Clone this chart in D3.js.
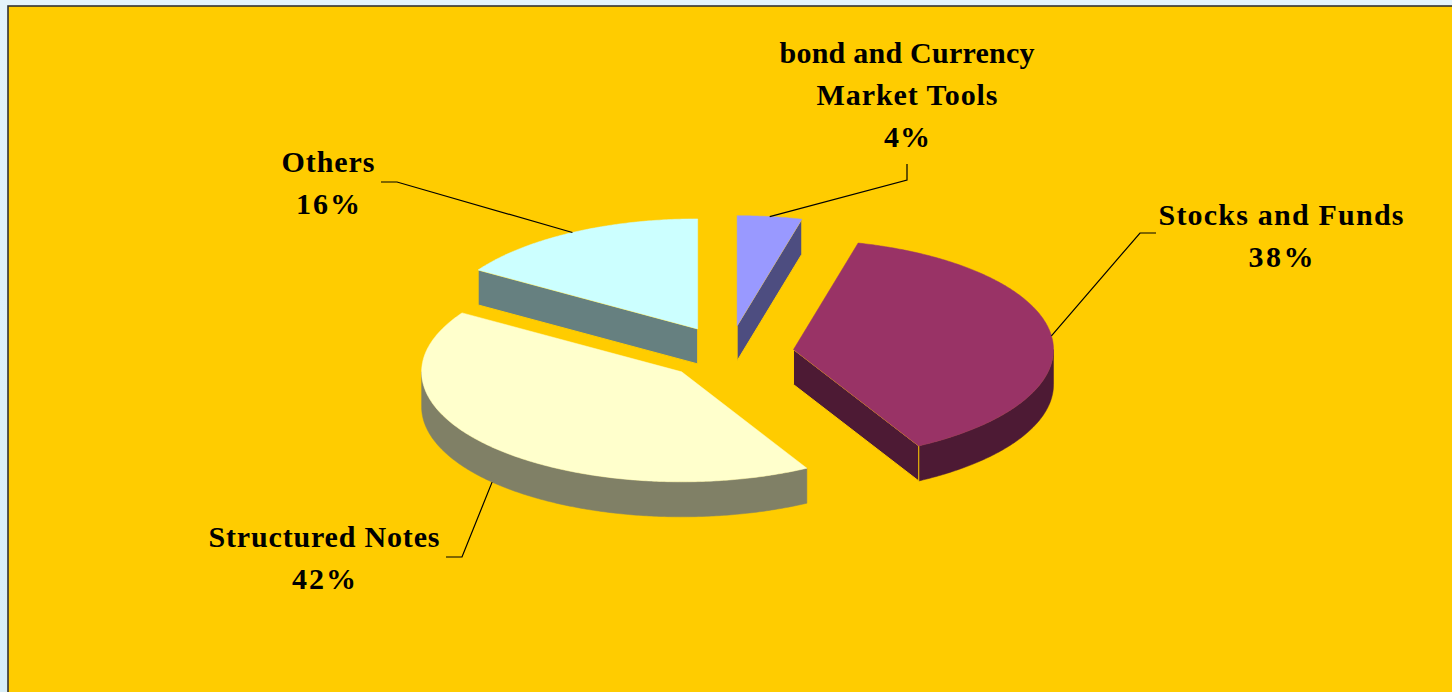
<!DOCTYPE html>
<html>
<head>
<meta charset="utf-8">
<script src="https://cdn.jsdelivr.net/npm/d3@7"></script>
<style>
  body { margin: 0; background: #e2f2fa; }
  svg { display: block; }
</style>
</head>
<body>
<script>
// Portfolio composition, percent of total
const categories = ["bond and Currency Market Tools", "Stocks and Funds", "Structured Notes", "Others"];
const shares = [4, 38, 42, 16];
const labelLines = [["bond and Currency", "Market Tools"], ["Stocks and Funds"], ["Structured Notes"], ["Others"]];

const topColors  = ["#9999FF", "#993366", "#FFFFCC", "#CCFFFF"];
const sideColors = ["#4D4D80", "#4D1A34", "#808066", "#668080"];

// label placement: centre x, first baseline, fitted line widths, leader elbow
const labelLayout = [
  { x: 907,  y: 63,  widths: [255, 181, 46], elbow: [[907, 180], [907, 164]] },
  { x: 1281, y: 225, widths: [245, 65],      elbow: [[1140, 233], [1156, 233]] },
  { x: 324,  y: 547, widths: [231, 64],      elbow: [[462, 557], [446, 557]] },
  { x: 328,  y: 172, widths: [93, 64],       elbow: [[397, 182], [381, 182]] }
];

const W = 1452, H = 692;
const svg = d3.select("body").append("svg").attr("width", W).attr("height", H);

// backdrop and plot frame
const bg = svg.append("defs").append("linearGradient").attr("id", "bg")
  .attr("x1", 0).attr("y1", 0).attr("x2", 0).attr("y2", 1);
bg.append("stop").attr("offset", 0).attr("stop-color", "#e4f3fb");
bg.append("stop").attr("offset", 1).attr("stop-color", "#d8eef8");
svg.append("rect").attr("width", W).attr("height", H).attr("fill", "url(#bg)");
svg.append("rect").attr("x", 8).attr("y", 6).attr("width", W + 10).attr("height", H + 10)
  .attr("fill", "#FFCC00").attr("stroke", "#333").attr("stroke-width", 1.6);

// 3D pie geometry
const cx = 729, cy = 353, rx = 260, ry = 110, depth = 35, explode = 65;
const pie = d3.pie().sort(null).value(d => d).startAngle(0).endAngle(2 * Math.PI);
const arcs = pie(shares);

const proj = (a, r, o) => [o[0] + r * rx * Math.sin(a), o[1] - r * ry * Math.cos(a)];
const line = d3.line();

function arcPoints(a0, a1, o, dy) {
  const n = Math.max(2, Math.ceil((a1 - a0) / 0.01));
  return d3.range(n + 1).map(i => {
    const p = proj(a0 + (a1 - a0) * i / n, 1, o);
    return [p[0], p[1] + dy];
  });
}

const slices = arcs.map((d, i) => {
  const mid = (d.startAngle + d.endAngle) / 2;
  const o = [cx + explode * Math.sin(mid), cy - explode * (ry / rx) * Math.cos(mid)];
  return { d, i, mid, o };
});

// paint back slices first
const order = slices.slice().sort((a, b) => a.o[1] - b.o[1]);
const g = svg.append("g");

order.forEach(s => {
  const { d, i, o } = s;
  const a0 = d.startAngle, a1 = d.endAngle;
  const sg = g.append("g");

  // outer curved wall, front half only
  const v0 = Math.max(a0, Math.PI / 2), v1 = Math.min(a1, 3 * Math.PI / 2);
  if (v1 > v0) {
    const topEdge = arcPoints(v0, v1, o, 0);
    const botEdge = arcPoints(v0, v1, o, depth).reverse();
    sg.append("path").attr("d", line(topEdge.concat(botEdge)) + "Z")
      .attr("fill", sideColors[i]).attr("stroke", sideColors[i]).attr("stroke-width", 0.5);
  }

  // radial walls facing the viewer
  [[a0, Math.sin(a0) < -1e-6], [a1, Math.sin(a1) > 1e-6]].forEach(([a, visible]) => {
    if (!visible) return;
    const p = proj(a, 1, o);
    const quad = [o, p, [p[0], p[1] + depth], [o[0], o[1] + depth]];
    sg.append("path").attr("d", line(quad) + "Z")
      .attr("fill", sideColors[i]).attr("stroke", "#FFCC00").attr("stroke-width", 1);
  });

  // top face
  const top = [o].concat(arcPoints(a0, a1, o, 0));
  sg.append("path").attr("d", line(top) + "Z")
    .attr("fill", topColors[i]).attr("stroke", topColors[i]).attr("stroke-width", 0.5);
});

// leader lines and labels
const lg = svg.append("g");
slices.forEach(s => {
  const { i, mid, o } = s;
  const L = labelLayout[i];
  const p = proj(mid, 1, o);
  if (Math.cos(mid) < 0) p[1] += depth;
  lg.append("path").attr("d", line([p].concat(L.elbow)))
    .attr("fill", "none").attr("stroke", "#000").attr("stroke-width", 1.2);

  const lines = labelLines[i].concat([shares[i] + "%"]);
  const t = lg.append("text")
    .attr("font-family", "'Liberation Serif', 'Times New Roman', serif")
    .attr("font-weight", "bold").attr("font-size", 30).attr("fill", "#000")
    .attr("text-anchor", "middle");
  lines.forEach((txt, k) => {
    t.append("tspan").attr("x", L.x).attr("y", L.y + k * 42)
      .attr("textLength", L.widths[k]).attr("lengthAdjust", "spacing")
      .text(txt);
  });
});
</script>
</body>
</html>
